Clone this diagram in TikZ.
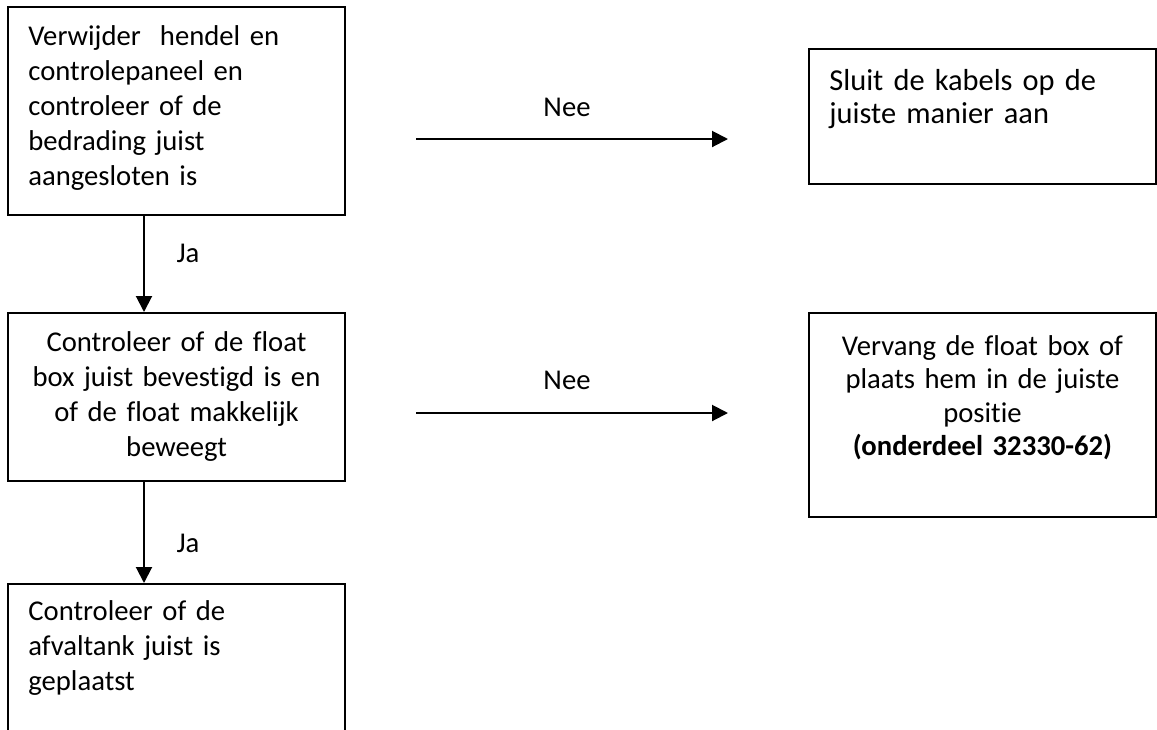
\documentclass[tikz,border=0pt]{standalone}
\usepackage{fontspec}
\setmainfont{Carlito}[Ligatures={NoCommon}]
\usepackage{tikz}
\usetikzlibrary{arrows.meta,positioning}
\tikzstyle{arrow} = [line width=1pt,-{Triangle[length=8pt,width=8pt]}]
\tikzstyle{stepbox} = [rectangle, draw, line width=1pt, inner sep=0pt]
\tikzstyle{steptext} = [inner sep=0pt, font=\fontsize{14.33pt}{17.5pt}\selectfont]
\tikzstyle{answer} = [inner sep=0pt, font=\fontsize{14.33pt}{17.5pt}\selectfont, anchor=base]

\begin{document}
\begin{tikzpicture}[x=0.5pt, y=-0.5pt]
    \useasboundingbox (0,0) rectangle (1157,729);
    \clip (0,0) rectangle (1157,729);

    % Check 1: wiring
    \node[stepbox, minimum width=168.5pt, minimum height=104pt] (chk1) at (176.5,111) {};
    \node[steptext, text width=155pt, align=left, anchor=base west] (chk1txt) at (28,45) {Verwijder\ \ hendel en\\ controlepaneel en\\ controleer of de\\ bedrading juist\\ aangesloten is};

    % Check 2: float box
    \node[stepbox, minimum width=168.5pt, minimum height=84pt] (chk2) at (176.5,397) {};
    \node[steptext, text width=160pt, align=center, anchor=base] (chk2txt) at (176.5,351) {Controleer of de float\\ box juist bevestigd is en\\ of de float makkelijk\\ beweegt};

    % Check 3: waste tank (open at the bottom)
    \node[stepbox, minimum width=168.5pt, minimum height=110pt, anchor=north] (chk3) at (176.5,583) {};
    \node[steptext, text width=155pt, align=left, anchor=base west] (chk3txt) at (28,620) {Controleer of de\\ afvaltank juist is\\ geplaatst};

    % Fixes
    \node[stepbox, minimum width=173.5pt, minimum height=67.5pt] (fix1) at (982.5,116.5) {};
    \node[steptext, font=\fontsize{15.2pt}{16.5pt}\selectfont, text width=160pt, align=left, anchor=base west] (fix1txt) at (829,90) {Sluit de kabels op de\\ juiste manier aan};
    \node[stepbox, minimum width=173.5pt, minimum height=102pt] (fix2) at (982.5,415) {};
    \node[steptext, font=\fontsize{14.33pt}{16.75pt}\selectfont, text width=165pt, align=center, anchor=base] (fix2txt) at (982.5,355) {Vervang de float box of\\ plaats hem in de juiste\\ positie\\ \textbf{(onderdeel 32330-62)}};

    % Ja
    \draw[arrow] ([xshift=-16.25pt]chk1.south) -- ([xshift=-16.25pt]chk2.north);
    \node[answer] (ja1) at (188,262) {Ja};
    \draw[arrow] ([xshift=-16.25pt]chk2.south) -- ([xshift=-16.25pt]chk3.north);
    \node[answer] (ja2) at (188,552) {Ja};

    % Nee
    \coordinate (nee1s) at (416,139);
    \coordinate (nee1e) at (728,139);
    \draw[arrow] (nee1s) -- (nee1e);
    \node[answer] (nee1) at (567,116) {Nee};
    \coordinate (nee2s) at (416,413);
    \coordinate (nee2e) at (728,413);
    \draw[arrow] (nee2s) -- (nee2e);
    \node[answer] (nee2) at (567,389) {Nee};
\end{tikzpicture}
\end{document}
